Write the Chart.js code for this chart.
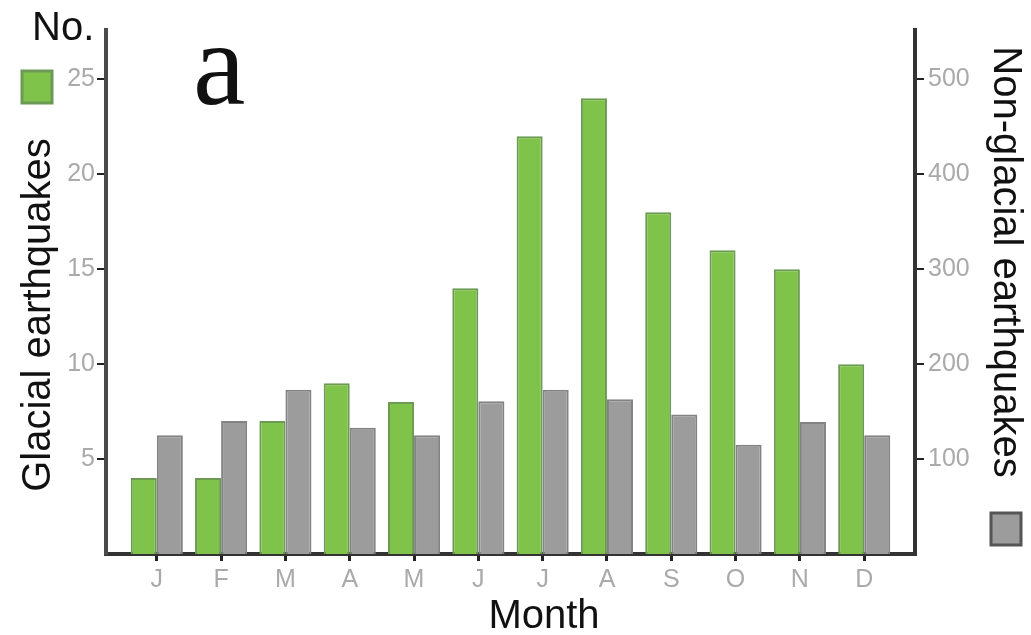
<!DOCTYPE html>
<html>
<head>
<meta charset="utf-8">
<script src="https://cdn.jsdelivr.net/npm/chart.js@4"></script>
<style>
  body { margin: 0; background: #fff; }
  canvas { display: block; }
</style>
</head>
<body>
<canvas id="quakeChart" width="1031" height="635"></canvas>
<script>
// Monthly earthquake counts
const months = ['J', 'F', 'M', 'A', 'M', 'J', 'J', 'A', 'S', 'O', 'N', 'D'];
const glacial = [4, 4, 7, 9, 8, 14, 22, 24, 18, 16, 15, 10];
const nonGlacial = [125, 140, 173, 133, 125, 161, 173, 163, 147, 115, 139, 125];
const leftTicks = [5, 10, 15, 20, 25];
const rightTicks = [100, 200, 300, 400, 500];

const GREEN = '#80c34b';
const GREEN_EDGE = '#6c9a54';
const GREY = '#9c9c9c';
const GREY_EDGE = '#838383';

// titles, panel letter and the little legend squares
const decorations = {
    id: 'decorations',
    afterDraw(chart) {
        const c = chart.ctx;
        c.save();
        c.fillStyle = '#111';
        c.font = '40px "Liberation Sans", Arial, sans-serif';
        c.textBaseline = 'alphabetic';
        c.textAlign = 'left';
        c.fillText('No.', 32, 40);
        c.textAlign = 'center';
        c.fillText('Month', 544, 628);

        c.font = '118px "Liberation Serif", "Times New Roman", serif';
        c.textAlign = 'left';
        c.fillText('a', 193, 104);

        // left title
        c.font = '40px "Liberation Sans", Arial, sans-serif';
        c.save();
        c.translate(50, 315);
        c.rotate(-Math.PI / 2);
        c.textAlign = 'center';
        c.fillText('Glacial earthquakes', 0, 0);
        c.restore();

        // right title
        c.save();
        c.translate(994, 262);
        c.rotate(Math.PI / 2);
        c.textAlign = 'center';
        c.fillText('Non-glacial earthquakes', 0, 0);
        c.restore();

        // legend squares
        c.lineWidth = 3;
        c.fillStyle = GREEN;
        c.strokeStyle = GREEN_EDGE;
        c.fillRect(22, 71, 30, 32);
        c.strokeRect(22, 71, 30, 32);
        c.fillStyle = GREY;
        c.strokeStyle = '#555';
        c.fillRect(991, 513, 30, 32);
        c.strokeRect(991, 513, 30, 32);
        c.restore();
    }
};

const ctx = document.getElementById('quakeChart');

new Chart(ctx, {
    type: 'bar',
    data: {
        datasets: [{
            label: 'Glacial earthquakes',
            data: glacial.map((v, i) => ({ x: i, y: v })),
            yAxisID: 'yLeft',
            backgroundColor: GREEN,
            borderColor: GREEN_EDGE,
            borderWidth: 2,
            categoryPercentage: 0.81,
            barPercentage: 1
        }, {
            label: 'Non-glacial earthquakes',
            data: nonGlacial.map((v, i) => ({ x: i, y: v })),
            yAxisID: 'yRight',
            backgroundColor: GREY,
            borderColor: GREY_EDGE,
            borderWidth: 2,
            categoryPercentage: 0.81,
            barPercentage: 1
        }]
    },
    options: {
        responsive: false,
        animation: false,
        layout: { padding: { top: 30, left: 0, right: 0, bottom: 0 } },
        plugins: {
            legend: { display: false },
            tooltip: { enabled: false }
        },
        scales: {
            x: {
                type: 'linear',
                offset: false,
                min: -0.79,
                max: 11.79,
                afterBuildTicks: axis => { axis.ticks = months.map((m, i) => ({ value: i })); },
                afterFit: axis => { axis.height = 81; },
                ticks: {
                    callback: v => months[v],
                    color: '#aaa',
                    font: { size: 25, family: '"Liberation Sans", Arial, sans-serif' },
                    padding: 4,
                    maxRotation: 0,
                    autoSkip: false
                },
                grid: { offset: false, drawOnChartArea: false, color: '#222', lineWidth: 3, tickLength: 7 },
                border: { color: '#333', width: 4 }
            },
            yLeft: {
                position: 'left',
                min: 0,
                max: 27.6,
                afterBuildTicks: axis => { axis.ticks = leftTicks.map(v => ({ value: v })); },
                afterFit: axis => { axis.width = 106; },
                ticks: {
                    color: '#aaa',
                    font: { size: 25, family: '"Liberation Sans", Arial, sans-serif' },
                    padding: 2
                },
                grid: { drawOnChartArea: false, color: '#222', lineWidth: 2, tickLength: 9 },
                border: { color: '#4a4a4a', width: 4 }
            },
            yRight: {
                position: 'right',
                min: 0,
                max: 552,
                afterBuildTicks: axis => { axis.ticks = rightTicks.map(v => ({ value: v })); },
                afterFit: axis => { axis.width = 116; },
                ticks: {
                    color: '#aaa',
                    font: { size: 25, family: '"Liberation Sans", Arial, sans-serif' },
                    padding: 4
                },
                grid: { drawOnChartArea: false, color: '#222', lineWidth: 2, tickLength: 9 },
                border: { color: '#333', width: 4 }
            }
        }
    },
    plugins: [decorations]
});
</script>
</body>
</html>
